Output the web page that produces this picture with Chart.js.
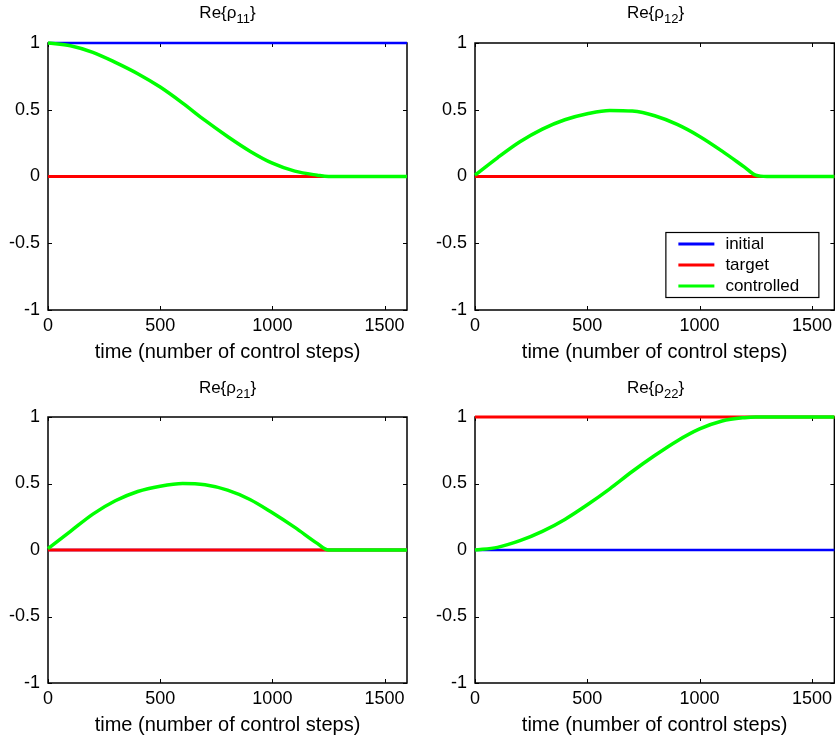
<!DOCTYPE html>
<html>
<head>
<meta charset="utf-8">
<script src="https://cdn.jsdelivr.net/npm/chart.js@4.4.1/dist/chart.umd.min.js"></script>
<style>
  body { margin: 0; background: #fff; width: 835px; height: 738px; overflow: hidden; position: relative; }
  .panel { position: absolute; }
  .panel canvas { position: absolute; left: 0; top: 0; }
  .title {
    position: absolute; left: 0; right: 0; text-align: center;
    font-family: 'Liberation Sans', Arial, sans-serif; font-size: 17px; color: #000;
  }
  .title sub { font-size: 13px; vertical-align: -5px; line-height: 0; }
</style>
</head>
<body>
<div class="panel" id="p11" style="left:0;top:0;width:417px;height:372px">
  <canvas id="c11" width="417" height="372"></canvas>
  <div class="title" style="top:3px;padding-right:10px;padding-left:48px">Re{ρ<sub>11</sub>}</div>
</div>
<div class="panel" id="p12" style="left:427px;top:0;width:410px;height:372px">
  <canvas id="c12" width="410" height="372"></canvas>
  <div class="title" style="top:3px;padding-right:1px;padding-left:48px">Re{ρ<sub>12</sub>}</div>
</div>
<div class="panel" id="p21" style="left:0;top:372px;width:417px;height:366px">
  <canvas id="c21" width="417" height="366"></canvas>
  <div class="title" style="top:6px;padding-right:10px;padding-left:48px">Re{ρ<sub>21</sub>}</div>
</div>
<div class="panel" id="p22" style="left:427px;top:372px;width:410px;height:366px">
  <canvas id="c22" width="410" height="366"></canvas>
  <div class="title" style="top:6px;padding-right:1px;padding-left:48px">Re{ρ<sub>22</sub>}</div>
</div>
<script>
// time axis (control steps) for the controlled trajectories
const steps = [0, 100, 200, 300, 400, 500, 600, 700, 800, 900, 1000, 1100, 1200, 1250, 1300, 1400, 1500, 1600];
const rho11Controlled = [1.0, 0.98, 0.93, 0.855, 0.77, 0.67, 0.55, 0.42, 0.30, 0.19, 0.10, 0.04, 0.01, 0, 0, 0, 0, 0];
const rho12Controlled = [0.01, 0.14, 0.26, 0.355, 0.425, 0.47, 0.495, 0.49, 0.455, 0.39, 0.30, 0.19, 0.07, 0.01, 0, 0, 0, 0];
const rho21Controlled = [0.01, 0.14, 0.27, 0.37, 0.44, 0.48, 0.50, 0.49, 0.45, 0.38, 0.28, 0.17, 0.05, 0, 0, 0, 0, 0];
const rho22Controlled = [0, 0.02, 0.07, 0.14, 0.23, 0.34, 0.46, 0.59, 0.71, 0.82, 0.91, 0.97, 0.995, 1, 1, 1, 1, 1];

// initial and target states are constant over time
const flatSteps = [0, 1600];
const initialValues = { rho11: [1, 1], rho12: [0, 0], rho21: [0, 0], rho22: [0, 0] };
const targetValues = { rho11: [0, 0], rho12: [0, 0], rho21: [0, 0], rho22: [1, 1] };

const xTicks = [0, 500, 1000, 1500];
const yTicks = [-1, -0.5, 0, 0.5, 1];
const seriesNames = ['initial', 'target', 'controlled'];
const seriesColors = ['#0000ff', '#ff0000', '#00ff00'];

const FONT = "'Liberation Sans', Arial, sans-serif";

function pts(xs, ys) {
  return xs.map((x, i) => ({ x: x, y: ys[i] }));
}

// axes box with inward tick marks on all four sides
const boxPlugin = {
  id: 'box',
  beforeDatasetsDraw(chart) {
    const { ctx, chartArea: a, scales } = chart;
    ctx.save();
    ctx.strokeStyle = '#000';
    ctx.lineWidth = 1.5;
    ctx.strokeRect(a.left, a.top, a.right - a.left, a.bottom - a.top);
    ctx.lineWidth = 1;
    ctx.beginPath();
    xTicks.forEach(v => {
      const px = Math.round(scales.x.getPixelForValue(v)) + 0.5;
      ctx.moveTo(px, a.bottom); ctx.lineTo(px, a.bottom - 4);
      ctx.moveTo(px, a.top); ctx.lineTo(px, a.top + 4);
    });
    yTicks.forEach(v => {
      const py = Math.round(scales.y.getPixelForValue(v)) + 0.5;
      ctx.moveTo(a.left, py); ctx.lineTo(a.left + 4, py);
      ctx.moveTo(a.right, py); ctx.lineTo(a.right - 4, py);
    });
    ctx.stroke();
    ctx.restore();
  }
};

// legend drawn inside the plot, lower right corner
const insetLegend = {
  id: 'insetLegend',
  afterDraw(chart, args, opts) {
    if (!opts.show) return;
    const { ctx, chartArea: a } = chart;
    const w = 153, h = 65;
    const x0 = a.right - 16 - w, y0 = a.bottom - 13 - h;
    ctx.save();
    ctx.fillStyle = '#fff';
    ctx.fillRect(x0, y0, w, h);
    ctx.strokeStyle = '#000';
    ctx.lineWidth = 1.2;
    ctx.strokeRect(x0 + 0.5, y0 + 0.5, w, h);
    ctx.font = '17px ' + FONT;
    ctx.textBaseline = 'middle';
    seriesNames.forEach((name, i) => {
      const y = y0 + 12 + i * 21;
      ctx.strokeStyle = seriesColors[i];
      ctx.lineWidth = 3;
      ctx.beginPath();
      ctx.moveTo(x0 + 13, y); ctx.lineTo(x0 + 49, y);
      ctx.stroke();
      ctx.fillStyle = '#000';
      ctx.fillText(name, x0 + 60, y);
    });
    ctx.restore();
  }
};

function makeChart(id, key, controlled, opt) {
  new Chart(document.getElementById(id), {
    type: 'line',
    data: {
      datasets: [
        { label: seriesNames[0], data: pts(flatSteps, initialValues[key]), borderColor: seriesColors[0], borderWidth: 2.5, order: 3 },
        { label: seriesNames[1], data: pts(flatSteps, targetValues[key]), borderColor: seriesColors[1], borderWidth: 3, order: 2 },
        { label: seriesNames[2], data: pts(steps, controlled), borderColor: seriesColors[2], borderWidth: 3.5, order: 1,
          cubicInterpolationMode: 'monotone' }
      ]
    },
    options: {
      responsive: false,
      animation: false,
      events: [],
      elements: { point: { radius: 0 }, line: { fill: false } },
      datasets: { line: { clip: 6 } },
      layout: { padding: { top: opt.top, right: opt.right, left: 0, bottom: 0 } },
      plugins: {
        legend: { display: false },
        tooltip: { enabled: false },
        insetLegend: { show: !!opt.legend }
      },
      scales: {
        x: {
          type: 'linear', min: 0, max: 1600,
          grid: { display: false, drawTicks: false },
          border: { display: false },
          afterBuildTicks(s) { s.ticks = xTicks.map(v => ({ value: v })); },
          afterFit(s) { s.height = opt.xh; },
          ticks: {
            autoSkip: false, padding: 5, color: '#000',
            font: { family: FONT, size: 18 },
            maxRotation: 0,
            callback: v => String(v)
          },
          title: {
            display: true, text: 'time (number of control steps)', color: '#000',
            font: { family: FONT, size: 20 }, padding: { top: 0, bottom: opt.tb }
          }
        },
        y: {
          min: -1, max: 1,
          grid: { display: false, drawTicks: false },
          border: { display: false },
          afterBuildTicks(s) { s.ticks = yTicks.map(v => ({ value: v })); },
          afterFit(s) { s.width = 48; },
          ticks: {
            autoSkip: false, padding: 8, color: '#000',
            font: { family: FONT, size: 18 },
            callback: v => String(v)
          }
        }
      }
    },
    plugins: [boxPlugin, insetLegend]
  });
}

makeChart('c11', 'rho11', rho11Controlled, { top: 43, right: 10, xh: 62, tb: 8 });
makeChart('c12', 'rho12', rho12Controlled, { top: 43, right: 1, xh: 62, tb: 8, legend: true });
makeChart('c21', 'rho21', rho21Controlled, { top: 45, right: 10, xh: 55, tb: 1 });
makeChart('c22', 'rho22', rho22Controlled, { top: 45, right: 1, xh: 55, tb: 1 });
</script>
</body>
</html>
